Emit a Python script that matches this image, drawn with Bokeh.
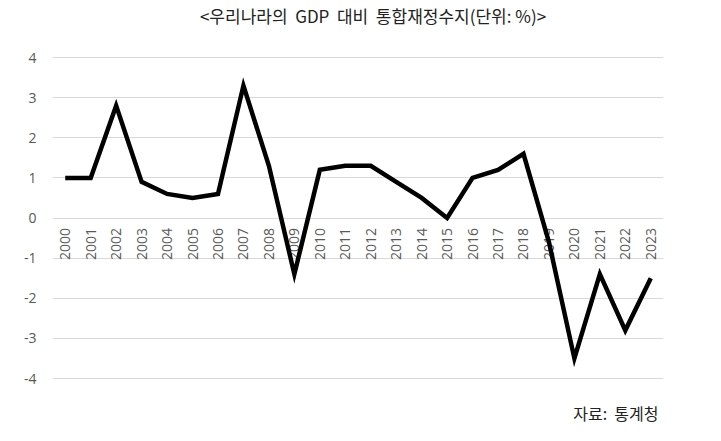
import math
from bokeh.plotting import figure
from bokeh.models import FactorRange, Range1d, Label, ColumnDataSource, FixedTicker, PrintfTickFormatter
from bokeh.core.properties import value
from bokeh.embed import file_html
from bokeh.resources import INLINE

years = [str(y) for y in range(2000, 2024)]
balance = [1.0, 1.0, 2.8, 0.9, 0.6, 0.5, 0.6, 3.3, 1.3, -1.4, 1.2, 1.3,
           1.3, 0.9, 0.5, 0.0, 1.0, 1.2, 1.6, -0.6, -3.5, -1.4, -2.8, -1.5]
y_ticks = [-4, -3, -2, -1, 0, 1, 2, 3, 4]
NB = "\u00a0"
title_text = "<우리나라의" + NB * 2 + "GDP" + NB * 2 + "대비" + NB * 2 + "통합재정수지(단위: %)>"
source_text = "자료:" + NB * 2 + "통계청"

p = figure(width=721, height=441, x_range=FactorRange(*years),
           y_range=Range1d(-5.5701, 5.4206), output_backend="svg",
           toolbar_location=None, min_border=0,
           min_border_left=52, min_border_right=58, min_border_top=0,
           min_border_bottom=0)
p.outline_line_color = None
p.background_fill_color = "white"
p.border_fill_color = "white"

p.xaxis.visible = False
p.xgrid.grid_line_color = None
p.ygrid.grid_line_color = "#d9d9d9"
p.ygrid.grid_line_width = 1
p.yaxis.ticker = FixedTicker(ticks=y_ticks)
p.yaxis.formatter = PrintfTickFormatter(format="%d")
p.yaxis.axis_line_color = None
p.yaxis.major_tick_line_color = None
p.yaxis.minor_tick_line_color = None
p.yaxis.major_label_text_color = "#595959"
p.yaxis.major_label_text_font = "Open Sans"
p.yaxis.major_label_text_font_size = "14px"
p.yaxis.major_label_standoff = 10

src = ColumnDataSource(dict(x=years, y=balance, zero=[0] * len(years)))

p.text(x="x", y="zero", text="x", source=src, angle=math.pi / 2,
       text_align="right", text_baseline="middle", y_offset=10,
       text_font=value("Open Sans"), text_font_size="14px",
       text_color="#595959")

p.line(x="x", y="y", source=src, line_color="black", line_width=4.5,
       line_join="miter", line_cap="butt")

p.add_layout(Label(x=12.59, y=5.047, text=title_text,
                   text_align="center", text_baseline="middle",
                   text_font="Noto Sans CJK KR", text_font_size="17px",
                   text_color="#222222"))
p.add_layout(Label(x=23.8, y=-4.872, text=source_text,
                   text_align="right", text_baseline="middle",
                   text_font="Noto Sans CJK KR", text_font_size="16px",
                   text_color="#222222"))

open("out.html", "w").write(file_html(p, INLINE))
